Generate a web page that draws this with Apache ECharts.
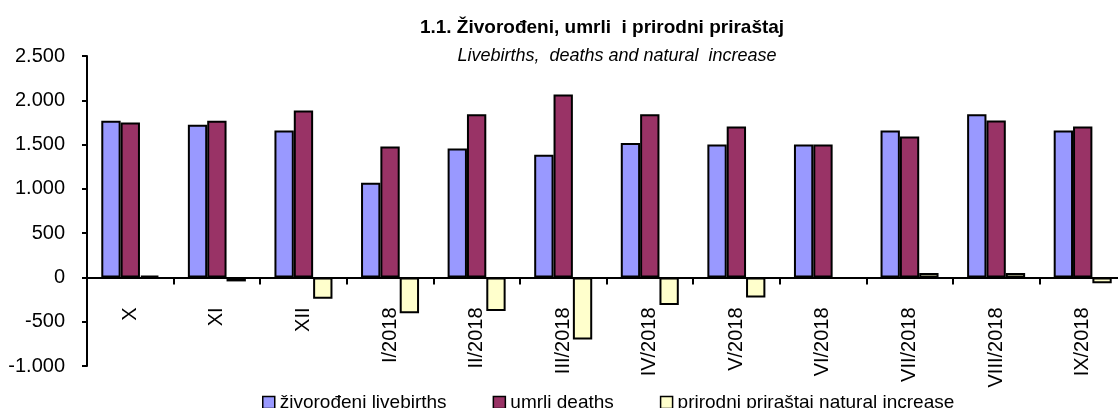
<!DOCTYPE html>
<html>
<head>
<meta charset="utf-8">
<script src="https://cdn.jsdelivr.net/npm/echarts@6/dist/echarts.min.js"></script>
<style>
html,body{margin:0;padding:0;background:#fff;}
#chart{width:1118px;height:408px;}
</style>
</head>
<body>
<div id="chart"></div>
<script>
var categories = ['X','XI','XII','I/2018','II/2018','III/2018','IV/2018','V/2018','VI/2018','VII/2018','VIII/2018','IX/2018'];
var livebirths = [1769, 1724, 1659, 1068, 1455, 1386, 1519, 1500, 1500, 1659, 1841, 1659];
var deaths = [1750, 1769, 1886, 1477, 1841, 2065, 1841, 1705, 1500, 1591, 1773, 1705];
var naturalIncrease = [19, -45, -240, -405, -379, -700, -311, -227, -12, 49, 49, -65];
var seriesNames = ['živorođeni livebirths', 'umrli deaths', 'prirodni priraštaj natural increase'];
var titleText = '1.1. Živorođeni, umrli  i prirodni priraštaj';
var subtitleText = 'Livebirths,  deaths and natural  increase';
var yMin = -1000, yMax = 2500, yStep = 500;

var FONT = "'Liberation Sans', Arial, sans-serif";
var GRID = {left: 87, right: -8, top: 56, bottom: 42};
var plotH = 408 - GRID.top - GRID.bottom;
// move the category axis up to the zero line
var zeroOffset = -(0 - yMin) / (yMax - yMin) * plotH;

var chart = echarts.init(document.getElementById('chart'), null, {renderer: 'canvas'});

function fmt(v) {
  var s = Math.abs(v).toString().replace(/\B(?=(\d{3})+(?!\d))/g, '.');
  return (v < 0 ? '-' : '') + s;
}

function barSeries(name, data, color) {
  return {
    name: name,
    type: 'bar',
    data: data,
    barGap: '0%',
    barCategoryGap: '33%',
    itemStyle: {color: color, borderColor: '#000', borderWidth: 2},
    emphasis: {disabled: true}
  };
}

chart.setOption({
  animation: false,
  textStyle: {fontFamily: FONT},
  graphic: [
    {type: 'text', x: 602, y: 28, style: {text: titleText, font: "bold 19px " + FONT, fill: '#000', align: 'center', verticalAlign: 'middle'}},
    {type: 'text', x: 617, y: 56, style: {text: subtitleText, font: "italic 18px " + FONT, fill: '#000', align: 'center', verticalAlign: 'middle'}}
  ],
  legend: {
    top: 388,
    left: 257,
    icon: 'rect',
    itemWidth: 12,
    itemHeight: 12,
    itemGap: 46,
    itemStyle: {borderColor: '#000', borderWidth: 1.5},
    textStyle: {fontSize: 19, color: '#000', fontFamily: FONT},
    data: seriesNames
  },
  grid: {left: GRID.left, right: GRID.right, top: GRID.top, bottom: GRID.bottom, containLabel: false, outerBoundsMode: 'none'},
  xAxis: {
    type: 'category',
    data: categories,
    position: 'bottom',
    offset: zeroOffset,
    axisLine: {onZero: false, lineStyle: {color: '#000', width: 2}},
    axisTick: {show: true, length: 7, lineStyle: {color: '#000', width: 2}},
    axisLabel: {rotate: 90, margin: 30, interval: 0, fontSize: 20, color: '#000', fontFamily: FONT}
  },
  yAxis: {
    type: 'value',
    min: yMin,
    max: yMax,
    interval: yStep,
    axisLine: {show: true, lineStyle: {color: '#000', width: 2}},
    axisTick: {show: true, length: 5, lineStyle: {color: '#000', width: 2}},
    splitLine: {show: false},
    axisLabel: {margin: 22, fontSize: 20, color: '#000', fontFamily: FONT, formatter: fmt}
  },
  series: [
    barSeries(seriesNames[0], livebirths, '#9999FF'),
    barSeries(seriesNames[1], deaths, '#993366'),
    barSeries(seriesNames[2], naturalIncrease, '#FFFFCC')
  ]
});
</script>
</body>
</html>
